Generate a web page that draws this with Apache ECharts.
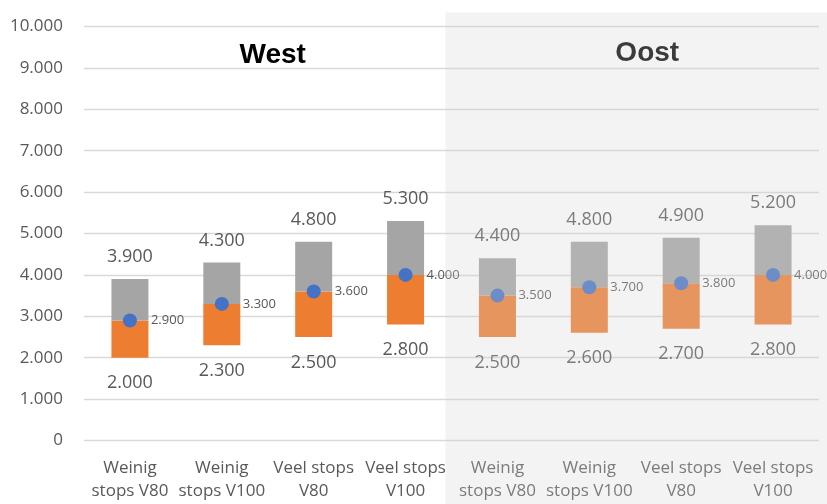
<!DOCTYPE html>
<html>
<head>
<meta charset="utf-8">
<script src="https://cdn.jsdelivr.net/npm/echarts@6/dist/echarts.min.js"></script>
<style>
  html, body { margin: 0; padding: 0; background: #fff; }
  #chart { width: 827px; height: 504px; }
</style>
</head>
<body>
<div id="chart"></div>
<script>
// Travel-time ranges per scenario: minimum, average and maximum
const categories = [
  'Weinig\nstops V80', 'Weinig\nstops V100', 'Veel stops\nV80', 'Veel stops\nV100',
  'Weinig\nstops V80', 'Weinig\nstops V100', 'Veel stops\nV80', 'Veel stops\nV100'
];
const regions = ['West', 'Oost'];
const regionSize = 4;
const minValues  = [2000, 2300, 2500, 2800, 2500, 2600, 2700, 2800];
const meanValues = [2900, 3300, 3600, 4000, 3500, 3700, 3800, 4000];
const maxValues  = [3900, 4300, 4800, 5300, 4400, 4800, 4900, 5200];
const yMin = 0, yMax = 10000, yStep = 1000;

// Dutch thousands separator
const fmt = v => String(v).replace(/\B(?=(\d{3})+(?!\d))/g, '.');

const FONT = '"Open Sans", "Liberation Sans", sans-serif';
const TEXT = '#595959';

const chart = echarts.init(document.getElementById('chart'), null, { renderer: 'canvas' });

chart.setOption({
  animation: false,
  backgroundColor: '#ffffff',
  grid: { left: 84, right: 8, top: 26.5, bottom: 63.5, containLabel: false },
  xAxis: {
    type: 'category',
    data: categories,
    axisLine: { show: false },
    axisTick: { show: false },
    axisLabel: {
      interval: 0, margin: 16, fontSize: 17, lineHeight: 23,
      color: TEXT, fontFamily: FONT
    }
  },
  yAxis: {
    type: 'value',
    min: yMin, max: yMax, interval: yStep,
    axisLine: { show: false },
    axisTick: { show: false },
    splitLine: { lineStyle: { color: '#D9D9D9', width: 1.3 } },
    axisLabel: {
      margin: 21, fontSize: 17, color: TEXT, fontFamily: FONT,
      formatter: v => fmt(v)
    }
  },
  series: [
    {
      name: 'basis', type: 'bar', stack: 'range', barWidth: 37, silent: true,
      data: minValues,
      itemStyle: { color: 'rgba(0,0,0,0)' },
      label: {
        show: true, position: 'insideTop', distance: 16.5,
        fontSize: 18, lineHeight: 18, color: TEXT, fontFamily: FONT,
        formatter: p => fmt(minValues[p.dataIndex])
      }
    },
    {
      name: 'min-gem', type: 'bar', stack: 'range', barWidth: 37, silent: true,
      data: meanValues.map((m, i) => m - minValues[i]),
      itemStyle: { color: '#ED7D31' }
    },
    {
      name: 'gem-max', type: 'bar', stack: 'range', barWidth: 37, silent: true,
      data: maxValues.map((m, i) => m - meanValues[i]),
      itemStyle: { color: '#A5A5A5' },
      label: {
        show: true, position: 'top', distance: 13,
        fontSize: 18, lineHeight: 18, color: TEXT, fontFamily: FONT,
        formatter: p => fmt(maxValues[p.dataIndex])
      }
    },
    {
      name: 'gemiddeld', type: 'scatter', silent: true,
      data: meanValues,
      symbol: 'circle', symbolSize: 14,
      itemStyle: { color: '#4472C4', opacity: 1 },
      label: {
        show: true, position: 'right', distance: 14,
        fontSize: 13, color: TEXT, fontFamily: FONT,
        formatter: p => fmt(meanValues[p.dataIndex])
      }
    }
  ]
});

// Region headers and the shaded panel over the second region
const catX = i => chart.convertToPixel({ xAxisIndex: 0 }, i);
const westCenter = (catX(1) + catX(2)) / 2 + 5;
const oostCenter = (catX(5) + catX(6)) / 2 + 12;
const panelLeft = (catX(regionSize - 1) + catX(regionSize)) / 2 - 6;

chart.setOption({
  graphic: [
    {
      type: 'text', z: 50,
      style: {
        text: regions[0], x: westCenter, y: 55,
        align: 'center', verticalAlign: 'middle',
        font: 'bold 28px "Liberation Sans", Arial, sans-serif', fill: '#000'
      }
    },
    {
      type: 'text', z: 50,
      style: {
        text: regions[1], x: oostCenter, y: 53,
        align: 'center', verticalAlign: 'middle',
        font: 'bold 28px "Liberation Sans", Arial, sans-serif', fill: '#000'
      }
    },
    {
      type: 'rect', z: 100, silent: true,
      shape: { x: panelLeft, y: 12.5, width: 827 - panelLeft, height: 504 - 12.5 },
      style: { fill: 'rgba(211,211,211,0.28)' }
    }
  ]
});
</script>
</body>
</html>
